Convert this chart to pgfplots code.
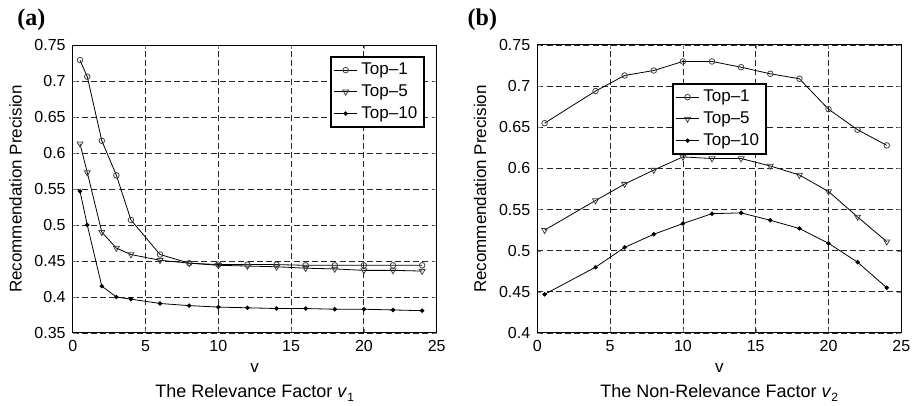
\documentclass[border=0pt]{standalone}
\usepackage{fontspec}
\setmainfont{Liberation Sans}
\newfontfamily\serifb{Liberation Serif}
\usepackage{pgfplots}
\pgfplotsset{compat=1.18}

\pgfplotsset{
  myax/.style={
    scale only axis, width=182pt, height=144pt,
    xmin=0, xmax=25, xtick={0,5,...,25},
    grid=major,
    grid style={black!85, line width=0.4pt, dash pattern=on 3pt off 1.6pt},
    axis line style={line width=0.5pt},
    tick align=inside, major tick length=2pt,
    tick label style={font=\fontsize{8}{9}\selectfont},
    /pgf/number format/assume math mode=true,
    yticklabel style={/pgf/number format/fixed, /pgf/number format/precision=2},
    xlabel={v}, ylabel={Recommendation Precision},
    label style={font=\fontsize{8.5}{10}\selectfont},
    xlabel style={at={(axis description cs:0.5,0)}, anchor=center, yshift=-17.5pt},
    ylabel style={at={(axis description cs:-0.157,0.5)}, anchor=center},
    legend cell align=left,
    legend style={font=\fontsize{8.5}{9.5}\selectfont, draw=black, line width=0.8pt,
      inner xsep=1.5pt, inner ysep=1pt, row sep=-0.5pt},
    legend image code/.code={\draw[mark repeat=2,mark phase=2]
      plot coordinates {(0cm,0cm) (0.2cm,0cm) (0.4cm,0cm)};},
    every axis plot/.append style={black, line width=0.4pt},
  },
  t1/.style={mark=o, mark size=1.4pt, mark options={solid, black!75}},
  t5/.style={mark=triangle, mark size=1.7pt, mark options={solid, rotate=180, black!75}},
  t10/.style={mark=*, mark size=0.9pt, mark options={solid}},
}

\begin{document}
\begin{tikzpicture}
\useasboundingbox (-36.35pt,-36.5pt) rectangle (422.15pt,166.5pt);

% (a) relevance factor
\begin{axis}[myax, name=a, at={(0,0)}, anchor=south west,
  ymin=0.35, ymax=0.75, ytick={0.35,0.4,...,0.76},
  legend style={at={(0.968,0.962)}, anchor=north east}]
\addplot[t1] coordinates {
 (0.5,0.729) (1,0.706) (2,0.617) (3,0.569) (4,0.507) (6,0.459) (8,0.447)
 (10,0.445) (12,0.445) (14,0.445) (16,0.444) (18,0.444) (20,0.444) (22,0.444) (24,0.444)};
\addplot[t5] coordinates {
 (0.5,0.613) (1,0.573) (2,0.490) (3,0.468) (4,0.459) (6,0.451) (8,0.447)
 (10,0.444) (12,0.443) (14,0.442) (16,0.440) (18,0.439) (20,0.437) (22,0.437) (24,0.436)};
\addplot[t10] coordinates {
 (0.5,0.547) (1,0.500) (2,0.415) (3,0.400) (4,0.397) (6,0.391) (8,0.388)
 (10,0.386) (12,0.385) (14,0.384) (16,0.384) (18,0.383) (20,0.383) (22,0.382) (24,0.381)};
\legend{Top--1, Top--5, Top--10}
\end{axis}

% (b) non-relevance factor
\begin{axis}[myax, name=b, at={(232.3pt,0)}, anchor=south west,
  ymin=0.4, ymax=0.75, ytick={0.4,0.45,...,0.76},
  legend style={at={(0.370,0.868)}, anchor=north west}]
\addplot[t1] coordinates {
 (0.5,0.655) (4,0.694) (6,0.713) (8,0.719) (10,0.730) (12,0.730)
 (14,0.723) (16,0.715) (18,0.709) (20,0.672) (22,0.647) (24,0.628)};
\addplot[t5] coordinates {
 (0.5,0.525) (4,0.561) (6,0.581) (8,0.598) (10,0.614) (12,0.612)
 (14,0.612) (16,0.603) (18,0.592) (20,0.572) (22,0.541) (24,0.511)};
\addplot[t10] coordinates {
 (0.5,0.447) (4,0.480) (6,0.504) (8,0.520) (10,0.533) (12,0.545)
 (14,0.546) (16,0.537) (18,0.527) (20,0.509) (22,0.486) (24,0.455)};
\legend{Top--1, Top--5, Top--10}
\end{axis}

% panel letters and factor captions
\node[font=\fontsize{9}{11}\selectfont, yshift=-30pt] at (a.south)
  {The Relevance Factor \textit{v}\raisebox{-0.5ex}{\fontsize{6}{7}\selectfont 1}};
\node[font=\fontsize{9}{11}\selectfont, yshift=-30pt] at (b.south)
  {The Non-Relevance Factor \textit{v}\raisebox{-0.5ex}{\fontsize{6}{7}\selectfont 2}};
\node[font=\serifb\bfseries\fontsize{12}{14}\selectfont, anchor=west, inner sep=0pt,
  xshift=-27.8pt, yshift=12.5pt] at (a.north west) {(a)};
\node[font=\serifb\bfseries\fontsize{12}{14}\selectfont, anchor=west, inner sep=0pt,
  xshift=-35pt, yshift=12.5pt] at (b.north west) {(b)};
\end{tikzpicture}
\end{document}
